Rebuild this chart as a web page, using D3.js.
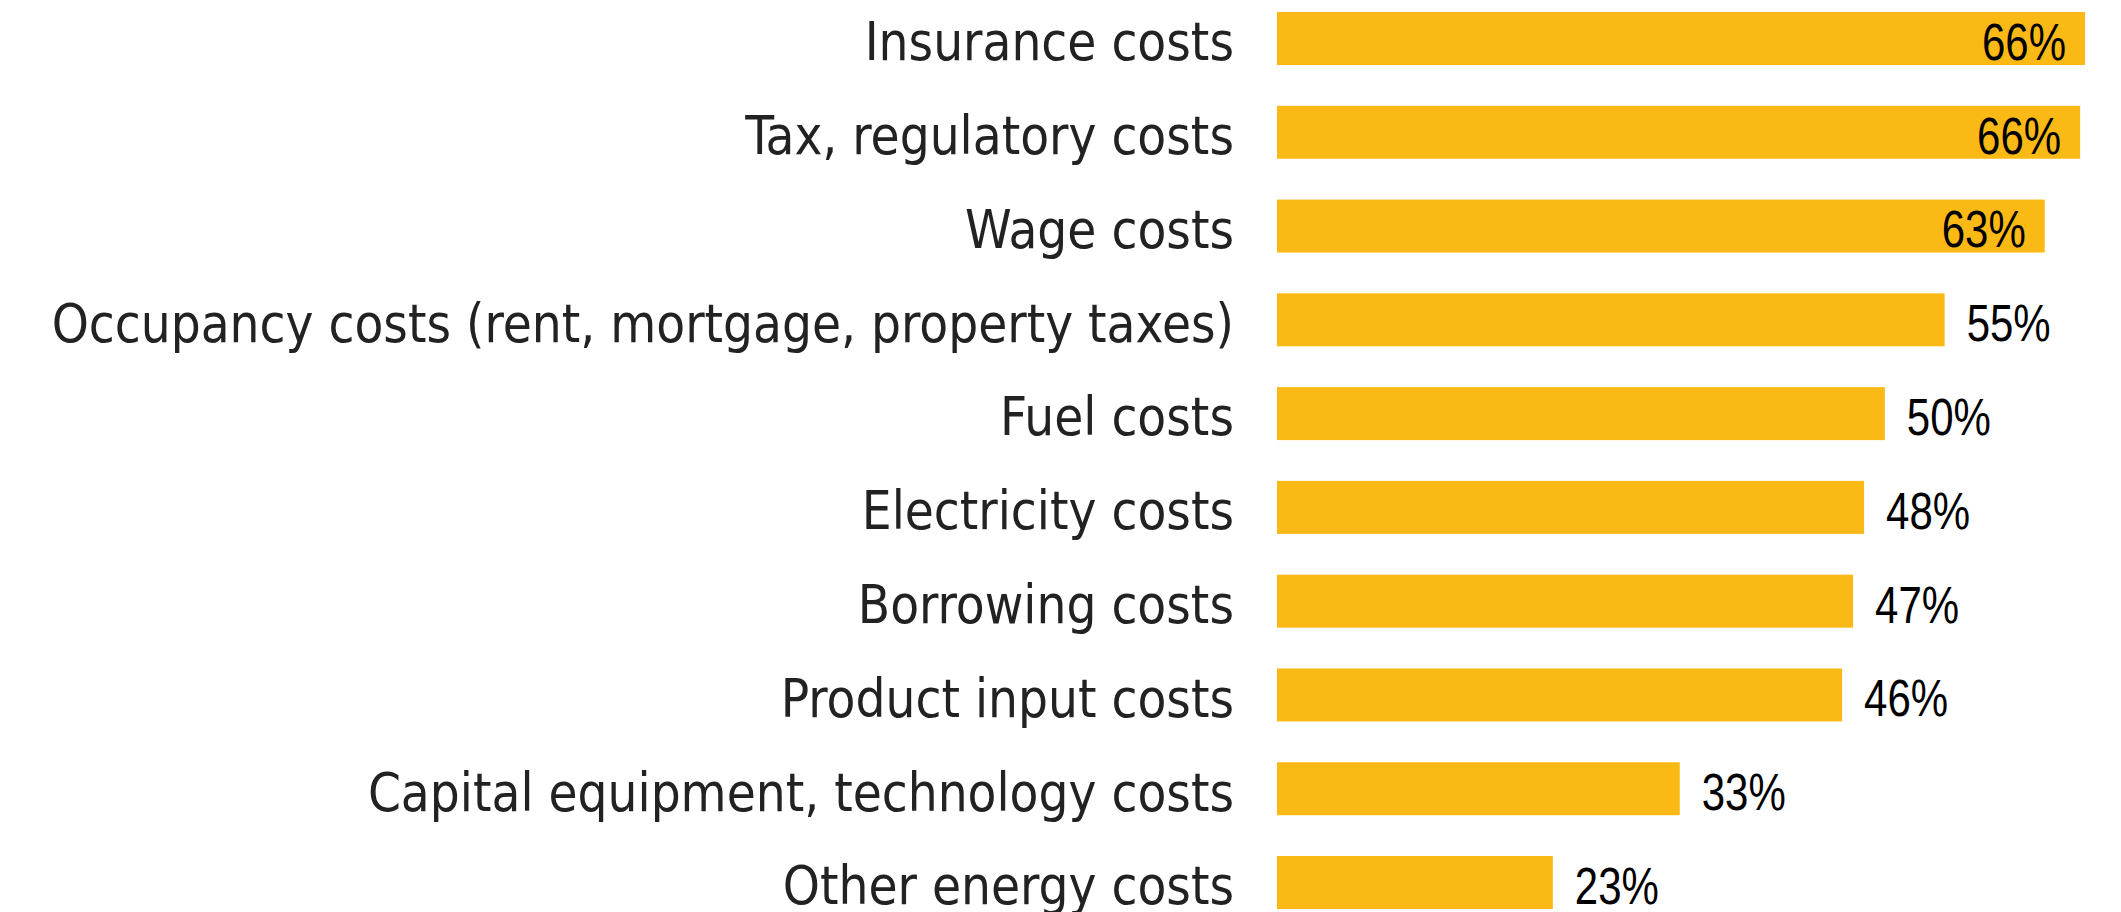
<!DOCTYPE html>
<html>
<head>
<meta charset="utf-8">
<script src="https://cdn.jsdelivr.net/npm/d3@7"></script>
<style>
  html, body { margin: 0; padding: 0; background: #fff; overflow: hidden; }
</style>
</head>
<body>
<svg id="chart" width="2121" height="912"></svg>
<script>
const categories = [
  "Insurance costs",
  "Tax, regulatory costs",
  "Wage costs",
  "Occupancy costs (rent, mortgage, property taxes)",
  "Fuel costs",
  "Electricity costs",
  "Borrowing costs",
  "Product input costs",
  "Capital equipment, technology costs",
  "Other energy costs"
];
const shares = [66.2, 65.8, 62.9, 54.7, 49.8, 48.1, 47.2, 46.3, 33.0, 22.6];

const svg = d3.select("#chart");
const W = +svg.attr("width");
const H = +svg.attr("height");
const margin = {top: 12, right: 36, bottom: 3, left: 1277};

const data = categories.map((c, i) => ({name: c, value: shares[i]}));

const x = d3.scaleLinear().domain([0, 66.2]).range([margin.left, 2085]);
const y = d3.scaleBand()
  .domain(categories)
  .range([margin.top, H - margin.bottom])
  .paddingInner(0.435)
  .paddingOuter(0);

const g = svg.append("g");

g.selectAll(".bar")
  .data(data)
  .enter().append("rect")
    .attr("class", "bar")
    .attr("x", x(0))
    .attr("y", d => y(d.name))
    .attr("width", d => x(d.value) - x(0))
    .attr("height", y.bandwidth())
    .attr("fill", "#FBB916");

// category labels
g.selectAll(".cat")
  .data(data)
  .enter().append("text")
    .attr("class", "cat")
    .attr("x", margin.left - 43)
    .attr("y", d => y(d.name) + y.bandwidth() / 2)
    .attr("dy", "0.415em")
    .attr("text-anchor", "end")
    .attr("font-family", "'DejaVu Sans Condensed', 'DejaVu Sans', sans-serif")
    .attr("font-size", 52.5)
    .attr("fill", "#222")
    .text(d => d.name);

// value labels: outside the bar unless they would run off the right edge
const labelW = 84;
const vals = g.selectAll(".val")
  .data(data)
  .enter().append("text")
    .attr("class", "val")
    .attr("y", d => y(d.name) + y.bandwidth() / 2)
    .attr("dy", "0.42em")
    .attr("font-family", "'Liberation Sans', Arial, sans-serif")
    .attr("font-size", 51)
    .attr("textLength", labelW)
    .attr("lengthAdjust", "spacingAndGlyphs")
    .attr("fill", "#000")
    .text(d => Math.round(d.value) + "%");

vals.each(function(d) {
  const t = d3.select(this);
  const end = x(d.value);
  if (end + 22 + labelW > W) {
    t.attr("x", end - 19 - labelW);
  } else {
    t.attr("x", end + 22);
  }
});
</script>
</body>
</html>
